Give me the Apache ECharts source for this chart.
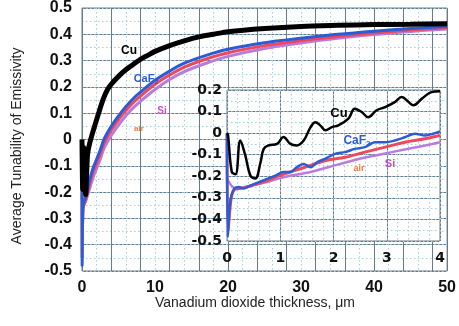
<!DOCTYPE html>
<html><head><meta charset="utf-8">
<script src="https://cdn.jsdelivr.net/npm/echarts@6/dist/echarts.min.js"></script>
<style>html,body{margin:0;padding:0;background:#fff}#c{width:459px;height:326px}</style>
</head><body><div id="c"></div>
<script>
// ---- main chart data (thickness in µm) ----
var cuX   = [0, 0.1, 0.25, 0.5, 0.75, 1, 1.5, 2, 2.5, 3, 3.5, 4, 5, 6, 7, 8, 9, 10, 12, 14, 16, 18, 20, 25, 30, 35, 40, 45, 50];
var cuY   = [0, -0.19, -0.03, -0.21, -0.06, -0.02, 0.03, 0.075, 0.12, 0.16, 0.19, 0.21, 0.24, 0.265, 0.285, 0.305, 0.32, 0.335, 0.357, 0.375, 0.39, 0.4, 0.41, 0.422, 0.43, 0.434, 0.437, 0.438, 0.44];
var filmX = [0, 0.02, 0.15, 0.5, 1, 1.5, 2, 2.5, 3, 4, 5, 6, 7, 8, 10, 12, 14, 17, 20, 25, 30, 35, 40, 45, 50];
var caf2Y = [0, -0.48, -0.25, -0.22, -0.16, -0.11, -0.075, -0.04, 0.0, 0.05, 0.09, 0.125, 0.155, 0.18, 0.225, 0.26, 0.29, 0.32, 0.343, 0.368, 0.385, 0.4, 0.412, 0.422, 0.43];
var airY  = [0, -0.45, -0.26, -0.23, -0.175, -0.125, -0.09, -0.055, -0.015, 0.035, 0.075, 0.11, 0.14, 0.165, 0.21, 0.245, 0.275, 0.306, 0.33, 0.357, 0.376, 0.392, 0.405, 0.416, 0.425];
var siY   = [-0.21, -0.22, -0.25, -0.235, -0.19, -0.145, -0.11, -0.075, -0.035, 0.015, 0.055, 0.09, 0.12, 0.145, 0.19, 0.228, 0.258, 0.29, 0.316, 0.346, 0.367, 0.385, 0.399, 0.411, 0.42];

// ---- inset data (0 - 4 µm) ----
var inCuX = [0, 0.02, 0.09, 0.16, 0.25, 0.34, 0.44, 0.53, 0.63, 0.69, 0.78, 0.94, 1.06, 1.19, 1.31, 1.44, 1.57, 1.66, 1.75, 1.85, 1.97, 2.09, 2.28, 2.40, 2.53, 2.65, 2.81, 2.97, 3.15, 3.28, 3.41, 3.5, 3.66, 3.84, 4.0];
var inCuY = [0, -0.01, -0.18, -0.19, -0.034, -0.10, -0.197, -0.21, -0.135, -0.073, -0.057, -0.05, -0.018, -0.05, -0.057, -0.034, 0.028, 0.051, 0.036, 0.013, 0.028, 0.036, 0.067, 0.113, 0.098, 0.074, 0.106, 0.121, 0.144, 0.167, 0.144, 0.129, 0.16, 0.19, 0.194];
var inCaX = [0, 0.015, 0.06, 0.13, 0.22, 0.31, 0.44, 0.59, 0.75, 0.91, 1.06, 1.19, 1.31, 1.44, 1.57, 1.69, 1.85, 2.03, 2.22, 2.40, 2.59, 2.78, 2.97, 3.15, 3.34, 3.53, 3.72, 3.87, 4.0];
var inCaY = [0, -0.48, -0.32, -0.26, -0.25, -0.256, -0.243, -0.228, -0.212, -0.197, -0.18, -0.18, -0.158, -0.143, -0.158, -0.135, -0.118, -0.096, -0.088, -0.073, -0.065, -0.042, -0.042, -0.034, -0.019, -0.003, -0.011, -0.003, 0.008];
var inAirX = [0, 0.02, 0.08, 0.15, 0.3, 0.5, 0.75, 1.0, 1.25, 1.5, 1.84, 2.22, 2.59, 2.97, 3.34, 3.72, 4.0];
var inAirY = [0, -0.45, -0.3, -0.26, -0.255, -0.24, -0.22, -0.195, -0.175, -0.155, -0.128, -0.112, -0.088, -0.065, -0.042, -0.026, -0.011];
var inSiX = [0, 0.16, 0.59, 1.06, 1.57, 1.9, 2.47, 3.09, 3.72, 4.0];
var inSiY = [-0.212, -0.256, -0.236, -0.205, -0.18, -0.158, -0.12, -0.088, -0.057, -0.042];

var xTitle = 'Vanadium dioxide thickness, \u03bcm';
var yTitle = 'Average Tunability of Emissivity';

function pairs(xs, ys){ return xs.map(function(x,i){ return [x, ys[i]]; }); }
function fmt(v){ var r = Math.round(v*10)/10; return r === 0 ? '0' : String(r); }

var C_BLUE = '#2b5cd6', C_RED = '#f0485a', C_PUR = '#b97be0', C_AIR = '#f07a4a', C_SI = '#c050c8';
var DARK = '#6a7b88', LIGHT = '#a9cbe0';
var mainFont = {fontFamily: 'Liberation Sans, Arial', fontWeight: 'bold', fontSize: 16, color: '#111'};
var inFont = {fontFamily: 'DejaVu Sans', fontWeight: 'bold', fontSize: 14, color: '#111'};

function solid(){ return {show: true, lineStyle: {color: DARK, width: 1, type: 'solid'}}; }
function dotted(){ return {show: true, lineStyle: {color: LIGHT, width: 1, type: [1.5, 2.5]}}; }
function hiddenAxis(extra){
  return Object.assign({type: 'value', axisLine: {show: false}, axisTick: {show: false}, axisLabel: {show: false}}, extra);
}

var chart = echarts.init(document.getElementById('c'), null, {renderer: 'canvas'});
chart.setOption({
  animation: false,
  backgroundColor: '#fff',
  grid: [
    {left: 82, top: 7, width: 367, height: 264, show: true, borderColor: DARK, borderWidth: 1, backgroundColor: 'transparent'},
    {left: 227, top: 90, width: 213, height: 151, show: true, borderColor: DARK, borderWidth: 1, backgroundColor: '#fff', z: 1}
  ],
  xAxis: [
    {type: 'value', gridIndex: 0, min: 0, max: 50, interval: 10, axisLine: {show: false}, axisTick: {show: false},
     axisLabel: Object.assign({margin: 9}, mainFont), splitLine: {show: false}},
    hiddenAxis({gridIndex: 0, min: 0, max: 50, interval: 2, splitLine: dotted()}),
    hiddenAxis({gridIndex: 0, min: 0, max: 50, interval: 4, splitLine: solid()}),
    {type: 'value', gridIndex: 1, min: 0, max: 4, interval: 1, z: 1, axisLine: {show: false}, axisTick: {show: false},
     axisLabel: Object.assign({margin: 10}, inFont), splitLine: solid()},
    hiddenAxis({gridIndex: 1, min: 0, max: 4, interval: 0.2, z: 1, splitLine: dotted()})
  ],
  yAxis: [
    {type: 'value', gridIndex: 0, min: -0.5, max: 0.5, interval: 0.1, axisLine: {show: false}, axisTick: {show: false},
     axisLabel: Object.assign({margin: 10, formatter: fmt}, mainFont), splitLine: solid()},
    hiddenAxis({gridIndex: 0, min: -0.5, max: 0.5, interval: 0.05, splitLine: dotted()}),
    {type: 'value', gridIndex: 1, min: -0.5, max: 0.2, interval: 0.1, z: 1, axisLine: {show: false}, axisTick: {show: false},
     axisLabel: Object.assign({margin: 5, formatter: fmt}, inFont), splitLine: solid()},
    hiddenAxis({gridIndex: 1, min: -0.5, max: 0.2, interval: 0.05, z: 1, splitLine: dotted()})
  ],
  series: [
    {type: 'line', xAxisIndex: 0, yAxisIndex: 0, data: pairs(filmX, siY), showSymbol: false, smooth: 0.3, lineStyle: {color: C_PUR, width: 3}, z: 3},
    {type: 'line', xAxisIndex: 0, yAxisIndex: 0, data: pairs(filmX, airY), showSymbol: false, smooth: 0.3, lineStyle: {color: C_RED, width: 3}, z: 4},
    {type: 'line', xAxisIndex: 0, yAxisIndex: 0, data: pairs(filmX, caf2Y), showSymbol: false, smooth: 0.3, lineStyle: {color: C_BLUE, width: 3}, z: 5},
    {type: 'line', xAxisIndex: 0, yAxisIndex: 0, data: pairs(cuX, cuY), showSymbol: false, smooth: 0.3, lineStyle: {color: '#000', width: 5}, z: 6},
    {type: 'line', xAxisIndex: 3, yAxisIndex: 2, data: pairs(inSiX, inSiY), showSymbol: false, smooth: 0.3, lineStyle: {color: C_PUR, width: 2.5}, z: 7},
    {type: 'line', xAxisIndex: 3, yAxisIndex: 2, data: pairs(inAirX, inAirY), showSymbol: false, smooth: 0.3, lineStyle: {color: C_RED, width: 3}, z: 8},
    {type: 'line', xAxisIndex: 3, yAxisIndex: 2, data: pairs(inCaX, inCaY), showSymbol: false, smooth: 0.3, lineStyle: {color: C_BLUE, width: 2.5}, z: 9},
    {type: 'line', xAxisIndex: 3, yAxisIndex: 2, data: pairs(inCuX, inCuY), showSymbol: false, smooth: 0.4, lineStyle: {color: '#000', width: 2.5}, z: 10}
  ],
  graphic: [
    {type: 'text', x: 255, y: 303, z: 20, style: {text: xTitle, font: '14px "Liberation Sans", Arial', fill: '#222', align: 'center', verticalAlign: 'middle'}},
    {type: 'text', x: 17, y: 146, rotation: Math.PI / 2, z: 20, style: {text: yTitle, font: '14px "Liberation Sans", Arial', fill: '#222', align: 'center', verticalAlign: 'middle'}},
    {type: 'text', x: 129, y: 51, z: 20, style: {text: 'Cu', font: 'bold 12px "Liberation Sans", Arial', fill: '#000', align: 'center', verticalAlign: 'middle'}},
    {type: 'text', x: 146, y: 79, z: 20, style: {text: '{a|CaF}{b|2}', align: 'center', verticalAlign: 'middle',
      rich: {a: {font: 'bold 11px "Liberation Sans", Arial', fill: C_BLUE, color: C_BLUE}, b: {font: 'bold 7px "Liberation Sans", Arial', fill: C_BLUE, color: C_BLUE, padding: [6, 0, 0, 0]}}}},
    {type: 'text', x: 162, y: 111, z: 20, style: {text: 'Si', font: 'bold 10px "Liberation Sans", Arial', fill: C_SI, align: 'center', verticalAlign: 'middle'}},
    {type: 'text', x: 139, y: 129, z: 20, style: {text: 'air', font: 'bold 8px "Liberation Sans", Arial', fill: C_AIR, align: 'center', verticalAlign: 'middle'}},
    {type: 'text', x: 339, y: 113, z: 20, style: {text: 'Cu', font: 'bold 13px "Liberation Sans", Arial', fill: '#000', align: 'center', verticalAlign: 'middle'}},
    {type: 'text', x: 357, y: 141, z: 20, style: {text: '{a|CaF}{b|2}', align: 'center', verticalAlign: 'middle',
      rich: {a: {font: 'bold 12px "Liberation Sans", Arial', fill: C_BLUE, color: C_BLUE}, b: {font: 'bold 8px "Liberation Sans", Arial', fill: C_BLUE, color: C_BLUE, padding: [6, 0, 0, 0]}}}},
    {type: 'text', x: 359, y: 169, z: 20, style: {text: 'air', font: 'bold 9px "Liberation Sans", Arial', fill: C_AIR, align: 'center', verticalAlign: 'middle'}},
    {type: 'text', x: 390, y: 164, z: 20, style: {text: 'Si', font: 'bold 11px "Liberation Sans", Arial', fill: C_SI, align: 'center', verticalAlign: 'middle'}}
  ]
});
</script></body></html>
